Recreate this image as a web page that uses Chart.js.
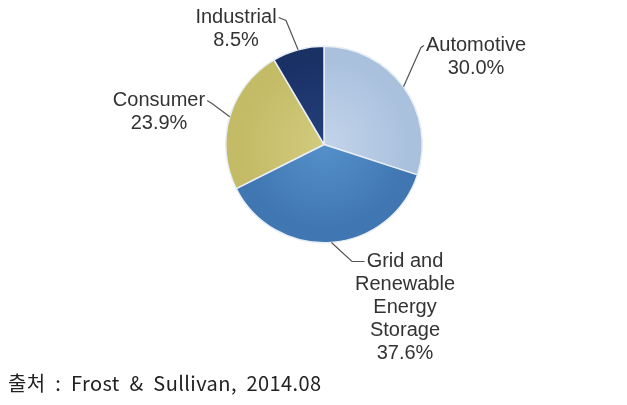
<!DOCTYPE html>
<html>
<head>
<meta charset="utf-8">
<script src="https://cdn.jsdelivr.net/npm/chart.js@4.4.1/dist/chart.umd.min.js"></script>
<style>
  html, body { margin: 0; padding: 0; background: #fff; }
  #wrap { position: relative; width: 627px; height: 405px; }
  #source {
    position: absolute; left: 8px; top: 368px;
    font-family: "Noto Sans CJK KR", "Noto Sans", sans-serif;
    font-size: 20px; color: #222; white-space: pre; letter-spacing: 0.4px;
  }
</style>
</head>
<body>
<div id="wrap">
  <canvas id="pieChart" width="627" height="405"></canvas>
  <div id="source">출처  :  Frost  &amp;  Sullivan,  2014.08</div>
</div>
<script>
// data
const categories = ['Automotive', ['Grid and', 'Renewable', 'Energy', 'Storage'], 'Consumer', 'Industrial'];
const shares = [30.0, 37.6, 23.9, 8.5];

// slice colours (centre, edge)
const innerColors = ['#c3d4ea', '#5590cb', '#d2cb7e', '#24407a'];
const outerColors = ['#aac1de', '#4077b2', '#c3bb66', '#1a3166'];

// where each label sits, relative to the pie centre (px)
const labelSpots = [
  { dx: 152, dy: -99, elbowX: 97, elbowY: -97, side: 'left' },
  { dx: 81, dy: 117, elbowX: 28, elbowY: 117, side: 'left' },
  { dx: -165, dy: -44, elbowX: -112, elbowY: -41, side: 'right' },
  { dx: -88, dy: -127, elbowX: -38, elbowY: -124, side: 'right' }
];

function sliceFill(context) {
  const i = context.dataIndex;
  const area = context.chart.chartArea;
  if (!area) return innerColors[i];
  const cx = (area.left + area.right) / 2;
  const cy = (area.top + area.bottom) / 2;
  const r = Math.min(area.right - area.left, area.bottom - area.top) / 2;
  const g = context.chart.ctx.createRadialGradient(cx, cy, 0, cx, cy, r);
  g.addColorStop(0, innerColors[i]);
  g.addColorStop(0.85, outerColors[i]);
  g.addColorStop(1, outerColors[i]);
  return g;
}

// labels with leader lines
const leaderLabels = {
  id: 'leaderLabels',
  afterDraw(chart) {
    const ctx = chart.ctx;
    const meta = chart.getDatasetMeta(0);
    const lineH = 23;
    ctx.save();
    ctx.font = '20px Arial, "Liberation Sans", sans-serif';
    ctx.textAlign = 'center';
    ctx.textBaseline = 'middle';
    meta.data.forEach((arc, i) => {
      const spot = labelSpots[i];
      const cx = arc.x, cy = arc.y;
      const mid = (arc.startAngle + arc.endAngle) / 2;
      const ex = cx + Math.cos(mid) * arc.outerRadius;
      const ey = cy + Math.sin(mid) * arc.outerRadius;
      const name = chart.data.labels[i];
      const lines = (Array.isArray(name) ? name.slice() : [name]);
      lines.push(chart.data.datasets[0].data[i].toFixed(1) + '%');

      const tx = cx + spot.dx;
      const ty = cy + spot.dy;
      const firstW = ctx.measureText(lines[0]).width;
      const startX = spot.side === 'left' ? tx - firstW / 2 - 2 : tx + firstW / 2 + 2;

      ctx.strokeStyle = '#555';
      ctx.lineWidth = 1.2;
      ctx.beginPath();
      ctx.moveTo(startX, ty);
      ctx.lineTo(cx + spot.elbowX, cy + spot.elbowY);
      ctx.lineTo(ex, ey);
      ctx.stroke();

      ctx.fillStyle = '#333';
      lines.forEach((t, k) => ctx.fillText(t, tx, ty + k * lineH));
    });
    ctx.restore();
  }
};

const pieChart = new Chart(document.getElementById('pieChart'), {
  type: 'pie',
  data: {
    labels: categories,
    datasets: [{
      data: shares,
      backgroundColor: sliceFill,
      borderColor: '#e8eef5',
      borderWidth: 1.5
    }]
  },
  options: {
    responsive: false,
    animation: false,
    layout: { padding: { top: 45, bottom: 161, left: 225, right: 204 } },
    plugins: {
      legend: { display: false },
      tooltip: { enabled: false }
    }
  },
  plugins: [leaderLabels]
});
</script>
</body>
</html>
